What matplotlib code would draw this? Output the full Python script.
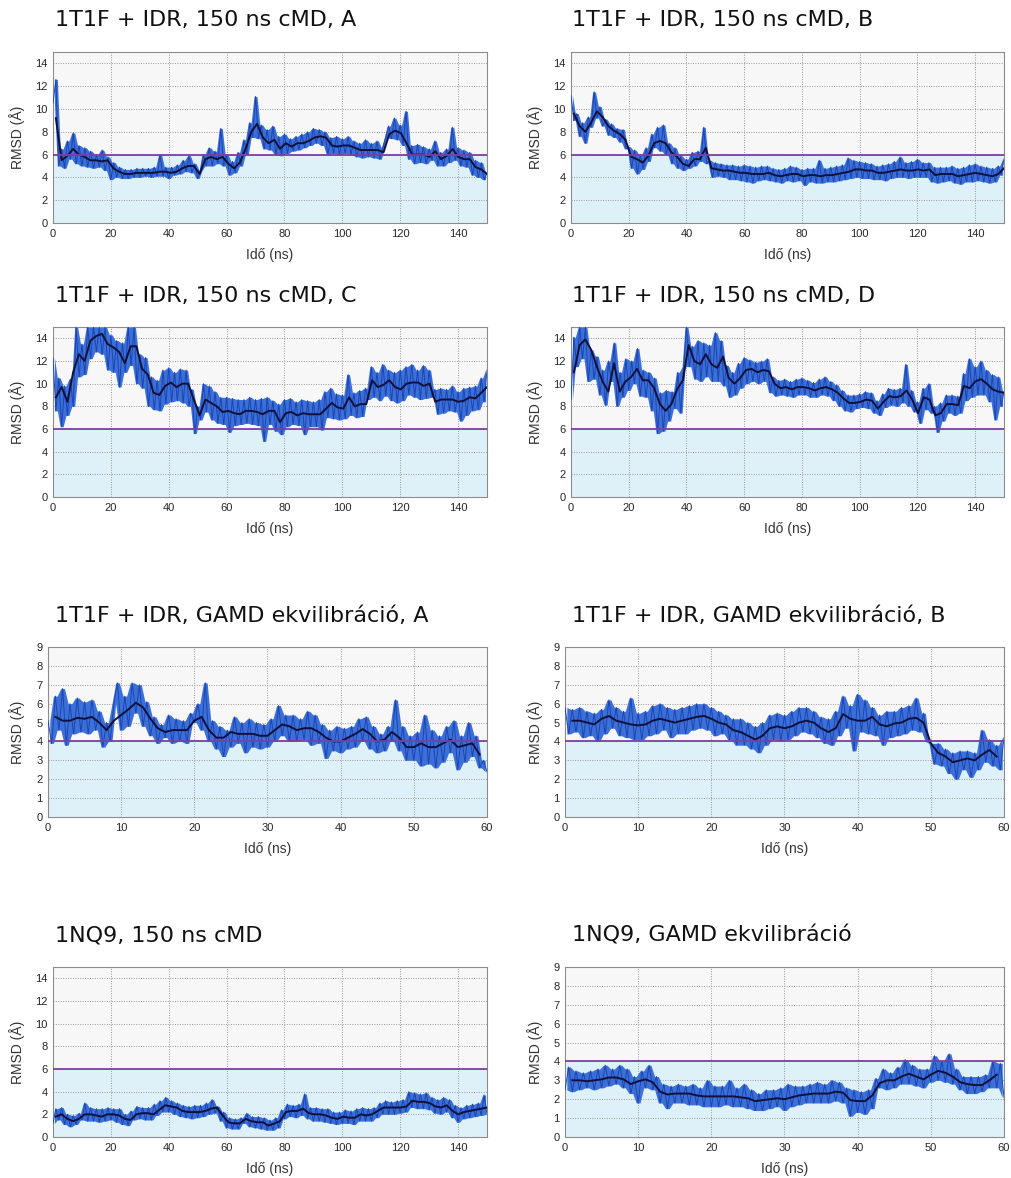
import numpy as np
import matplotlib
matplotlib.use("Agg")
import matplotlib.pyplot as plt

# ---- data (RMSD in Angstrom) ----
# cMD runs: raw trace sampled every 1 ns, smoothed trace every 2 ns (0..150 ns)
# GAMD runs: raw trace sampled every 0.5 ns (0..60 ns), smoothed trace every 1 ns (1..59 ns)

cmd_a_raw = [10.5, 12.6, 5.0, 6.5, 4.8, 7.2, 5.6, 7.9, 5.2, 6.8,
             5.0, 6.6, 4.9, 6.3, 4.8, 6.0, 4.9, 6.4, 4.6, 5.8,
             3.8, 5.3, 4.0, 4.9, 3.9, 4.7, 3.9, 4.7, 4.0, 4.8,
             4.0, 4.8, 4.1, 4.8, 4.0, 4.9, 4.1, 6.0, 4.1, 4.9,
             3.9, 4.9, 4.2, 5.1, 4.3, 5.5, 4.5, 5.9, 4.4, 5.2,
             3.9, 4.6, 6.0, 5.0, 6.6, 5.0, 6.3, 5.2, 8.3, 5.0,
             6.0, 4.2, 5.4, 4.4, 6.2, 5.0, 7.3, 6.0, 8.8, 7.5,
             11.1, 7.4, 8.6, 6.5, 8.2, 6.4, 8.5, 6.0, 7.6, 5.9,
             7.8, 6.1, 7.4, 6.3, 7.6, 6.4, 7.8, 6.6, 8.0, 6.8,
             8.3, 7.0, 8.2, 6.8, 8.0, 6.0, 7.5, 6.1, 7.6, 6.0,
             7.4, 6.1, 7.6, 6.0, 7.2, 5.8, 7.0, 5.7, 7.3, 5.8,
             7.0, 5.7, 7.2, 5.6, 6.6, 7.5, 8.5, 7.4, 9.2, 7.3,
             8.6, 6.8, 9.8, 5.6, 6.8, 5.2, 6.9, 5.3, 6.7, 5.2,
             6.5, 5.5, 7.2, 5.0, 6.2, 5.0, 6.5, 5.3, 8.4, 5.5,
             6.6, 5.0, 6.4, 4.9, 6.2, 4.2, 5.5, 4.0, 5.3, 3.8,
             4.4]
cmd_a_avg = [9.2, 5.5, 5.9, 6.5, 6.0, 5.8, 5.5, 5.5, 5.4, 5.5,
             4.8, 4.5, 4.3, 4.3, 4.4, 4.4, 4.4, 4.4, 4.5, 4.5,
             4.4, 4.5, 4.8, 5.0, 5.0, 4.3, 5.6, 5.8, 5.6, 5.8,
             5.2, 4.8, 5.3, 6.5, 8.0, 8.7, 7.5, 7.0, 7.3, 6.5,
             7.0, 6.7, 7.0, 7.0, 7.2, 7.5, 7.6, 7.5, 6.8, 6.7,
             6.8, 6.8, 6.6, 6.4, 6.4, 6.4, 6.4, 6.2, 7.8, 8.1,
             7.9, 7.0, 6.0, 6.0, 6.0, 5.8, 6.3, 5.6, 5.9, 6.5,
             5.8, 5.6, 5.6, 4.9, 4.7, 4.3]

cmd_b_raw = [11.2, 9.0, 9.6, 7.6, 8.8, 7.0, 9.3, 8.4, 11.5, 9.2,
             10.2, 8.5, 9.1, 7.7, 8.7, 7.5, 8.3, 7.1, 8.2, 6.5,
             6.7, 4.8, 6.4, 4.3, 6.0, 4.7, 6.6, 5.4, 7.8, 6.6,
             8.4, 6.3, 8.6, 6.0, 7.0, 5.2, 6.6, 4.8, 5.9, 4.6,
             5.6, 4.8, 6.2, 5.0, 6.3, 5.4, 8.4, 5.2, 5.5, 4.0,
             5.3, 4.1, 5.2, 4.0, 5.1, 3.8, 5.1, 3.8, 5.0, 3.7,
             5.1, 3.6, 5.0, 3.5, 4.9, 3.7, 5.0, 3.8, 5.0, 3.7,
             4.8, 3.6, 4.7, 3.5, 4.8, 3.7, 5.0, 3.6, 4.9, 3.7,
             4.7, 3.3, 4.8, 3.6, 4.8, 3.5, 5.5, 3.5, 4.8, 3.6,
             4.9, 3.6, 5.0, 3.7, 5.1, 3.8, 5.7, 3.9, 5.5, 4.0,
             5.4, 3.9, 5.3, 3.9, 5.2, 3.8, 5.0, 3.8, 5.1, 3.7,
             5.2, 3.9, 5.4, 4.0, 5.8, 4.0, 5.3, 3.9, 5.4, 4.0,
             5.6, 4.0, 5.3, 4.0, 5.3, 3.6, 4.9, 3.5, 4.9, 3.6,
             4.9, 3.7, 5.0, 3.5, 4.8, 3.4, 4.9, 3.6, 5.1, 3.6,
             5.2, 3.7, 5.0, 3.6, 4.9, 3.5, 4.8, 3.6, 5.0, 4.2,
             5.6]
cmd_b_avg = [9.6, 8.5, 8.0, 8.8, 9.8, 9.3, 8.5, 8.1, 7.8, 7.3,
             5.8, 5.6, 5.3, 5.9, 7.0, 7.2, 7.0, 6.2, 5.8, 5.2,
             5.0, 5.6, 5.6, 6.6, 4.8, 4.7, 4.6, 4.6, 4.5, 4.4,
             4.4, 4.3, 4.3, 4.3, 4.4, 4.2, 4.1, 4.2, 4.3, 4.3,
             4.1, 4.2, 4.2, 4.1, 4.2, 4.2, 4.3, 4.4, 4.5, 4.7,
             4.7, 4.6, 4.6, 4.4, 4.4, 4.5, 4.6, 4.7, 4.6, 4.6,
             4.7, 4.6, 4.7, 4.2, 4.3, 4.3, 4.3, 4.1, 4.2, 4.3,
             4.4, 4.3, 4.2, 4.1, 4.3, 4.8]

cmd_c_raw = [12.3, 7.6, 10.5, 6.2, 9.8, 7.2, 10.4, 8.0, 15.0, 10.6,
             13.5, 10.8, 15.0, 12.2, 15.0, 12.8, 15.0, 12.6, 15.0, 11.2,
             14.3, 11.0, 13.8, 9.7, 13.6, 11.0, 15.0, 11.6, 15.0, 10.0,
             12.6, 9.6, 12.3, 8.0, 10.6, 7.7, 10.3, 7.6, 11.2, 8.2,
             11.4, 8.4, 11.0, 8.5, 11.3, 8.3, 11.2, 8.0, 9.5, 5.6,
             8.0, 6.8, 10.0, 7.5, 9.8, 6.8, 9.3, 6.5, 8.8, 6.4,
             8.8, 5.7, 8.7, 6.3, 8.6, 6.4, 8.6, 6.5, 8.8, 6.4,
             8.6, 6.3, 8.7, 4.9, 8.8, 6.4, 8.5, 5.8, 8.2, 5.5,
             8.6, 6.2, 8.7, 6.4, 8.4, 6.3, 8.6, 5.5, 8.5, 6.2,
             8.4, 6.2, 8.6, 5.9, 9.3, 7.0, 9.6, 6.9, 9.1, 6.8,
             9.0, 6.9, 10.8, 7.2, 9.2, 7.0, 9.4, 7.1, 9.6, 8.6,
             11.5, 8.8, 11.0, 8.5, 11.7, 8.9, 11.2, 8.5, 11.0, 8.3,
             11.2, 8.5, 11.5, 9.0, 11.7, 8.8, 11.2, 8.6, 11.6, 8.7,
             11.2, 8.8, 9.5, 7.3, 9.6, 7.4, 9.5, 7.6, 9.8, 7.5,
             9.3, 6.7, 9.6, 7.2, 9.7, 7.6, 9.8, 7.7, 10.5, 8.4,
             11.2]
cmd_c_avg = [8.8, 9.7, 8.4, 11.0, 12.6, 12.0, 13.8, 14.2, 14.4, 13.5,
             13.2, 12.8, 11.8, 13.3, 13.3, 11.3, 10.8, 9.2, 9.0, 9.8,
             10.1, 9.7, 10.0, 10.0, 8.6, 7.2, 8.6, 8.3, 8.0, 7.5,
             7.6, 7.4, 7.3, 7.6, 7.6, 7.5, 7.3, 7.6, 7.6, 6.6,
             7.4, 7.5, 7.2, 7.4, 7.3, 7.3, 7.3, 7.8, 8.3, 7.9,
             7.8, 8.8, 8.0, 8.2, 8.2, 10.3, 9.7, 9.9, 10.3, 9.7,
             9.5, 10.0, 10.1, 10.1, 9.8, 10.0, 8.4, 8.6, 8.6, 8.6,
             8.4, 8.5, 8.8, 8.7, 9.2, 9.7]

cmd_d_raw = [8.6, 14.1, 11.5, 15.0, 12.2, 15.0, 10.2, 13.0, 10.4, 12.4,
             9.0, 11.2, 8.1, 12.0, 10.2, 13.6, 8.0, 11.0, 8.8, 12.2,
             9.4, 12.0, 10.0, 13.1, 8.9, 11.2, 8.8, 11.0, 7.6, 10.5,
             5.6, 9.2, 5.8, 9.4, 6.7, 9.3, 7.8, 11.0, 7.4, 11.5,
             15.0, 11.5, 13.3, 10.4, 13.8, 10.2, 13.6, 10.6, 13.4, 10.2,
             14.5, 10.2, 13.8, 9.8, 11.6, 8.8, 11.0, 9.0, 11.8, 9.6,
             12.3, 10.0, 12.1, 10.2, 11.9, 10.0, 12.0, 10.2, 12.2, 9.2,
             10.6, 8.9, 10.3, 9.0, 10.4, 8.9, 10.2, 8.8, 10.4, 9.0,
             10.5, 9.0, 10.3, 8.8, 10.1, 8.8, 10.4, 9.0, 10.6, 8.9,
             10.2, 8.5, 9.9, 8.0, 9.4, 7.6, 9.0, 7.5, 9.0, 7.8,
             9.1, 7.9, 9.3, 7.8, 9.2, 7.4, 8.5, 7.2, 9.1, 7.9,
             9.6, 8.1, 9.5, 8.0, 9.6, 8.3, 11.7, 8.0, 9.4, 7.5,
             8.4, 6.5, 9.6, 7.7, 10.0, 7.4, 8.0, 5.7, 8.3, 6.7,
             9.0, 7.4, 9.0, 7.2, 8.9, 7.4, 10.9, 8.5, 12.2, 8.8,
             11.5, 9.0, 12.0, 9.0, 11.2, 8.4, 10.8, 6.8, 10.6, 8.0,
             9.3]
cmd_d_avg = [11.0, 13.4, 13.9, 13.0, 11.5, 10.2, 9.3, 11.8, 9.3, 10.2,
             10.6, 11.3, 10.3, 10.3, 9.6, 8.2, 7.6, 8.2, 9.5, 10.3,
             13.4, 12.0, 11.7, 12.6, 11.7, 11.4, 12.4, 10.5, 10.0, 10.5,
             11.2, 11.3, 11.0, 11.2, 11.1, 10.0, 9.6, 9.7, 9.5, 9.7,
             9.7, 9.6, 9.4, 9.6, 9.7, 9.5, 9.2, 8.7, 8.3, 8.3,
             8.4, 8.6, 8.5, 7.8, 8.4, 8.9, 8.8, 8.9, 9.4, 8.6,
             7.4, 8.8, 8.6, 7.2, 7.4, 8.2, 8.2, 8.1, 9.8, 9.6,
             10.2, 10.4, 10.0, 9.5, 9.3, 9.2]

gamd_a_raw = [5.1, 3.9, 6.4, 4.6, 6.8, 3.8, 6.0, 4.4, 6.3, 4.5,
              6.1, 4.4, 6.2, 4.6, 5.6, 3.7, 5.0, 4.0, 6.0, 7.1,
              4.6, 6.4, 4.8, 7.1, 5.5, 7.0, 4.8, 6.1, 4.3, 5.3,
              3.9, 4.9, 4.2, 5.4, 3.9, 5.2, 4.0, 5.1, 3.9, 5.5,
              5.0, 6.0, 4.6, 7.1, 4.0, 5.1, 3.6, 4.8, 3.2, 4.6,
              3.7, 5.3, 3.9, 5.0, 3.4, 5.2, 3.7, 5.0, 3.6, 4.9,
              3.7, 5.2, 4.0, 5.9, 4.3, 5.4, 4.0, 5.4, 4.0, 5.2,
              4.1, 5.6, 3.8, 5.4, 3.9, 4.9, 3.1, 4.6, 3.5, 4.8,
              3.4, 4.7, 3.6, 4.8, 3.7, 5.2, 4.0, 5.3, 3.6, 4.8,
              3.4, 4.4, 3.5, 4.8, 4.0, 6.2, 3.5, 4.8, 3.0, 4.3,
              3.0, 4.5, 2.7, 5.4, 2.8, 4.6, 2.6, 4.3, 2.9, 4.8,
              3.4, 5.1, 2.5, 4.3, 2.9, 5.0, 3.2, 4.3, 2.6, 3.0,
              2.4]
gamd_a_avg = [5.3, 5.1, 5.1, 5.25, 5.2, 5.3, 5.0, 4.6, 5.1, 5.4,
              5.7, 6.05, 5.8, 5.2, 4.7, 4.5, 4.6, 4.6, 4.6, 5.1,
              5.3, 4.6, 4.2, 4.2, 4.5, 4.4, 4.4, 4.4, 4.3, 4.3,
              4.6, 4.9, 4.8, 4.6, 4.7, 4.7, 4.5, 4.2, 4.0, 4.0,
              4.2, 4.4, 4.65, 4.4, 4.0, 4.1, 4.5, 4.2, 3.7, 3.7,
              3.9, 3.7, 3.7, 3.9, 4.1, 3.7, 3.8, 3.9, 3.3]

gamd_b_raw = [5.8, 4.4, 5.7, 4.5, 5.8, 4.2, 5.6, 4.3, 5.5, 4.0,
              5.7, 4.4, 6.2, 4.7, 5.8, 4.3, 5.6, 4.2, 6.3, 4.1,
              5.5, 4.1, 5.6, 4.3, 5.9, 4.4, 6.0, 4.6, 5.8, 4.2,
              5.7, 4.4, 5.8, 4.4, 5.9, 4.6, 6.0, 4.7, 6.0, 4.6,
              5.8, 4.3, 5.6, 4.4, 5.4, 4.1, 5.2, 3.8, 5.2, 3.8,
              5.0, 3.6, 4.8, 3.4, 5.0, 3.8, 5.4, 4.1, 5.5, 4.0,
              5.4, 4.1, 5.6, 4.3, 5.8, 4.5, 5.8, 4.4, 5.6, 4.2,
              5.3, 3.9, 5.2, 3.8, 5.6, 4.3, 6.4, 4.7, 5.9, 3.5,
              6.5, 4.5, 6.2, 4.4, 5.8, 4.3, 5.4, 3.8, 5.6, 4.2,
              5.6, 4.3, 5.8, 4.4, 5.9, 4.6, 6.3, 4.5, 5.5, 4.0,
              3.9, 2.8, 3.9, 2.7, 3.6, 2.3, 3.4, 2.0, 3.5, 2.5,
              3.5, 2.1, 3.4, 2.5, 4.6, 2.9, 4.1, 2.7, 3.8, 2.5,
              4.2]
gamd_b_avg = [5.1, 5.1, 5.0, 4.9, 5.2, 5.35, 5.1, 5.0, 4.9, 4.85,
              4.9, 5.1, 5.2, 5.1, 5.0, 5.1, 5.2, 5.3, 5.35, 5.2,
              5.0, 4.9, 4.6, 4.5, 4.3, 4.1, 4.3, 4.7, 4.8, 4.7,
              4.8, 5.0, 5.1, 5.0, 4.7, 4.5, 4.7, 5.45, 5.2, 5.1,
              5.1, 5.3, 4.9, 4.8, 4.95, 5.0, 5.2, 5.25, 5.0, 3.9,
              3.4, 3.2, 2.9, 3.0, 3.1, 3.0, 3.3, 3.55, 3.2]

nq9_cmd_raw = [1.2, 2.5, 1.5, 2.6, 1.1, 2.0, 0.9, 1.9, 1.1, 2.1,
               1.5, 3.0, 1.4, 2.6, 1.4, 2.5, 1.3, 2.5, 1.4, 2.6,
               1.5, 2.5, 1.3, 2.5, 1.1, 2.0, 1.0, 2.3, 1.5, 2.7,
               1.6, 2.6, 1.5, 2.6, 1.5, 2.9, 1.9, 3.2, 2.2, 3.5,
               2.2, 3.2, 2.0, 3.0, 1.8, 2.8, 1.7, 2.7, 1.6, 2.8,
               1.7, 2.8, 1.8, 3.0, 2.0, 3.3, 2.1, 2.7, 1.4, 2.2,
               0.8, 1.7, 0.7, 1.6, 0.7, 1.7, 1.2, 2.1, 0.9, 1.8,
               0.8, 1.8, 0.7, 1.7, 0.6, 1.5, 0.6, 1.7, 0.8, 2.4,
               1.6, 2.9, 1.8, 2.8, 1.7, 2.9, 1.9, 3.8, 1.6, 2.6,
               1.4, 2.6, 1.4, 2.5, 1.3, 2.5, 1.2, 2.2, 1.1, 2.2,
               1.2, 2.4, 1.2, 2.3, 1.1, 2.5, 1.4, 2.6, 1.4, 2.5,
               1.4, 2.6, 1.7, 3.0, 2.0, 3.2, 2.0, 3.1, 2.0, 3.2,
               2.1, 3.3, 2.2, 4.0, 2.6, 3.9, 2.5, 3.8, 2.5, 3.9,
               2.4, 3.5, 2.1, 3.3, 2.0, 3.5, 2.2, 3.3, 1.7, 2.8,
               1.3, 2.6, 1.6, 2.8, 1.7, 2.9, 1.8, 3.0, 1.9, 3.7,
               2.0]
nq9_cmd_avg = [1.8, 2.0, 1.6, 1.4, 1.6, 2.0, 2.0, 1.9, 1.8, 2.0,
               2.0, 1.9, 1.6, 1.5, 2.0, 2.1, 2.1, 2.0, 2.4, 2.8,
               2.7, 2.6, 2.3, 2.2, 2.2, 2.2, 2.3, 2.5, 2.6, 1.9,
               1.3, 1.2, 1.2, 1.6, 1.4, 1.3, 1.3, 1.0, 1.2, 1.4,
               2.2, 2.3, 2.3, 2.5, 2.1, 2.0, 2.0, 1.9, 1.7, 1.6,
               1.8, 1.7, 1.7, 2.0, 1.9, 2.0, 2.3, 2.6, 2.6, 2.6,
               2.6, 2.7, 3.2, 3.1, 3.1, 3.0, 2.7, 2.6, 2.8, 2.3,
               2.0, 2.2, 2.3, 2.4, 2.5, 2.6]

nq9_gamd_raw = [2.5, 3.7, 2.4, 3.5, 2.5, 3.4, 2.6, 3.5, 2.5, 3.6,
                2.6, 3.8, 2.7, 3.6, 2.8, 3.8, 2.6, 3.6, 2.3, 3.2,
                1.8, 3.5, 2.6, 3.8, 2.5, 3.2, 1.8, 2.8, 1.5, 2.7,
                1.8, 2.8, 1.8, 2.7, 1.7, 2.8, 1.7, 2.6, 1.6, 3.0,
                1.6, 2.7, 1.6, 2.7, 1.7, 3.0, 1.6, 2.6, 1.6, 2.8,
                1.5, 2.5, 1.4, 2.3, 1.4, 2.5, 1.5, 2.5, 1.6, 2.6,
                1.4, 2.8, 1.6, 2.7, 1.7, 2.7, 1.8, 2.8, 1.8, 2.9,
                1.8, 2.8, 1.8, 3.0, 1.9, 2.9, 1.8, 2.6, 1.1, 2.5,
                1.3, 2.4, 1.2, 2.5, 1.5, 3.1, 2.6, 3.6, 2.5, 3.4,
                2.6, 3.7, 2.8, 4.1, 2.8, 3.8, 2.7, 3.6, 2.6, 3.6,
                2.9, 4.3, 3.0, 4.0, 2.9, 4.4, 2.8, 3.6, 2.5, 3.2,
                2.3, 3.2, 2.3, 3.2, 2.4, 3.3, 2.6, 4.0, 2.6, 3.9,
                2.1]
nq9_gamd_avg = [3.0, 3.0, 2.95, 3.0, 3.05, 3.15, 3.15, 3.05, 2.8, 2.95,
                3.05, 2.9, 2.4, 2.25, 2.3, 2.3, 2.3, 2.2, 2.15, 2.15,
                2.15, 2.15, 2.15, 2.1, 2.05, 1.9, 1.95, 2.0, 2.05, 2.0,
                2.1, 2.2, 2.25, 2.3, 2.3, 2.3, 2.4, 2.35, 1.95, 1.9,
                1.9, 2.2, 2.85, 3.0, 3.0, 3.2, 3.35, 3.2, 3.05, 3.3,
                3.5, 3.4, 3.2, 2.9, 2.8, 2.75, 2.75, 3.0, 3.3]

titles = ["1T1F + IDR, 150 ns cMD, A", "1T1F + IDR, 150 ns cMD, B",
          "1T1F + IDR, 150 ns cMD, C", "1T1F + IDR, 150 ns cMD, D",
          "1T1F + IDR, GAMD ekvilibráció, A", "1T1F + IDR, GAMD ekvilibráció, B",
          "1NQ9, 150 ns cMD", "1NQ9, GAMD ekvilibráció"]
raw_sets = [cmd_a_raw, cmd_b_raw, cmd_c_raw, cmd_d_raw,
            gamd_a_raw, gamd_b_raw, nq9_cmd_raw, nq9_gamd_raw]
avg_sets = [cmd_a_avg, cmd_b_avg, cmd_c_avg, cmd_d_avg,
            gamd_a_avg, gamd_b_avg, nq9_cmd_avg, nq9_gamd_avg]
is_gamd = [False, False, False, False, True, True, False, True]

# ---- layout in pixels: left, top, right, bottom of each axes ----
W, H = 1012, 1178
boxes = [(53, 52, 487, 223), (571, 52, 1004, 223),
         (53, 327, 487, 497), (571, 327, 1004, 497),
         (48, 647, 487, 817), (565, 647, 1004, 817),
         (53, 967, 487, 1137), (565, 967, 1004, 1137)]
title_y = [20, 20, 296, 296, 616, 616, 936, 936]

fig = plt.figure(figsize=(W / 100, H / 100), dpi=100)
fig.patch.set_facecolor("white")

for i in range(8):
    l, t, r, b = boxes[i]
    ax = fig.add_axes([l / W, 1 - b / H, (r - l) / W, (b - t) / H])
    ax.set_facecolor("#f7f7f7")

    raw = np.array(raw_sets[i])
    if is_gamd[i]:
        tmax, ymax, thr = 60, 9, 4
        t_raw = np.linspace(0, 60, len(raw))
        t_avg = np.linspace(1, 59, len(avg_sets[i]))
        xt = np.arange(0, 61, 10)
        yt = np.arange(0, 10, 1)
    else:
        tmax, ymax, thr = 150, 15, 6
        t_raw = np.linspace(0, 150, len(raw))
        t_avg = np.linspace(1, 150, len(avg_sets[i]))
        xt = np.arange(0, 141, 20)
        yt = np.arange(0, 15, 2)

    ax.axhspan(0, thr, color="#dff1f8", zorder=0)
    ax.set_xlim(0, tmax)
    ax.set_ylim(0, ymax)
    ax.set_xticks(xt)
    ax.set_yticks(yt)
    ax.grid(True, color="#9a9a9a", linestyle=(0, (1, 1.5)), linewidth=0.7, zorder=1)
    ax.set_axisbelow(True)

    # noisy trace: band between neighbouring samples plus the line itself
    t_mid = (t_raw[:-1] + t_raw[1:]) / 2
    lo = np.minimum(raw[:-1], raw[1:])
    hi = np.maximum(raw[:-1], raw[1:])
    ax.fill_between(t_mid, lo, hi, color="#3c70d6", linewidth=0, zorder=2)
    ax.plot(t_raw, raw, color="#1a45b5", linewidth=0.7, zorder=3)
    ax.plot(t_avg, avg_sets[i], color="#10103c", linewidth=1.4, zorder=4)
    ax.axhline(thr, color="#7b3fa5", linewidth=1.3, zorder=5)

    for s in ax.spines.values():
        s.set_color("#8c8c8c")
        s.set_linewidth(0.8)
    ax.tick_params(length=0, pad=4, labelsize=8, labelcolor="#262626")
    for lab in ax.get_xticklabels() + ax.get_yticklabels():
        lab.set_fontfamily("Liberation Sans")

    ax.set_xlabel("Idő (ns)", fontsize=10, family="Liberation Sans", color="#333333")
    ax.set_ylabel("RMSD (Å)", fontsize=10, family="Liberation Sans", color="#333333")
    ax.xaxis.set_label_coords(0.5, -25 / (b - t))
    ax.yaxis.set_label_coords(-(l - 25 - (i % 2) * 518) / (r - l), 0.5)

    tx = 55 if i % 2 == 0 else 572
    fig.text(tx / W, 1 - title_y[i] / H, titles[i], fontsize=16,
             family="DejaVu Sans", color="#111111", va="center", ha="left")

fig.savefig("out.png", dpi=100)
